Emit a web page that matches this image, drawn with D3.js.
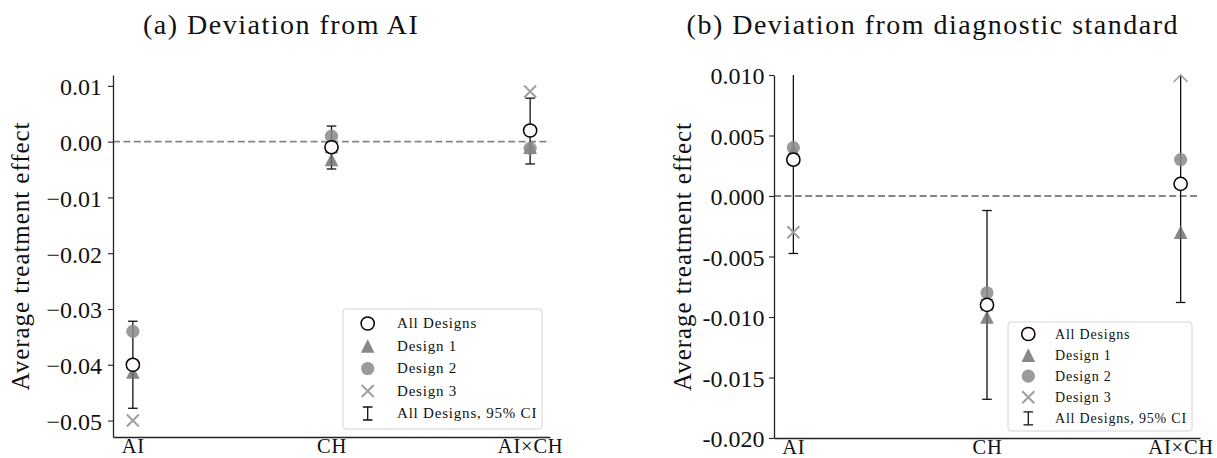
<!DOCTYPE html>
<html><head><meta charset="utf-8">
<script src="https://cdn.jsdelivr.net/npm/d3@7"></script>
<style>
html,body{margin:0;padding:0;background:#fff;}
svg{display:block;}
text{font-family:"Liberation Serif","Times New Roman",serif;fill:#111;}
</style></head>
<body>
<svg id="chart" width="1217" height="458"></svg>
<script>
// ---- data ----
const categories = ["AI", "CH", "AI×CH"];
const seriesNames = ["All Designs", "Design 1", "Design 2", "Design 3", "All Designs, 95% CI"];

// panel (a) Deviation from AI
const titleA = "(a) Deviation from AI";
const allA = [-0.040, -0.001, 0.002];
const ciLowA = [-0.0478, -0.0049, -0.0040];
const ciHighA = [-0.0322, 0.0028, 0.0078];
const design1A = [-0.0413, -0.0032, -0.0010];
const design2A = [-0.034, 0.001, -0.0012];
const design3A = [-0.050, -0.001, 0.009];
const yTicksA = [0.01, 0.00, -0.01, -0.02, -0.03, -0.04, -0.05];
const yTickLabelsA = ["0.01", "0.00", "−0.01", "−0.02", "−0.03", "−0.04", "−0.05"];
const yDomainA = [-0.05295, 0.01195];

// panel (b) Deviation from diagnostic standard
const titleB = "(b) Deviation from diagnostic standard";
const allB = [0.003, -0.009, 0.001];
const ciLowB = [-0.00475, -0.0168, -0.0088];
const ciHighB = [0.0108, -0.0012, 0.0108];
const design1B = [0.0038, -0.0100, -0.003];
const design2B = [0.004, -0.008, 0.003];
const design3B = [-0.003, -0.009, 0.012];
const yTicksB = [0.010, 0.005, 0.000, -0.005, -0.010, -0.015, -0.020];
const yTickLabelsB = ["0.010", "0.005", "0.000", "-0.005", "-0.010", "-0.015", "-0.020"];
const yDomainB = [-0.020, 0.010];

const yLabel = "Average treatment effect";

// ---- styles ----
const C_TRI = "#6a6a6a", C_DOT = "#8a8a8a", C_X = "#a0a0a0";
const svg = d3.select("#chart");

function drawMarker(g, type, cx, cy) {
  if (type === "all") {
    g.append("circle").attr("cx", cx).attr("cy", cy).attr("r", 6.6)
      .attr("fill", "#fffafa").attr("stroke", "#000").attr("stroke-width", 1.5);
  } else if (type === "d1") {
    const h = 6.8;
    g.append("path").attr("d", `M${cx},${cy - h}L${cx + h},${cy + h}L${cx - h},${cy + h}Z`)
      .attr("fill", C_TRI).attr("fill-opacity", 0.8);
  } else if (type === "d2") {
    g.append("circle").attr("cx", cx).attr("cy", cy).attr("r", 6.6)
      .attr("fill", C_DOT).attr("fill-opacity", 0.85);
  } else if (type === "d3") {
    const s = 6;
    g.append("path").attr("d", `M${cx - s},${cy - s}L${cx + s},${cy + s}M${cx - s},${cy + s}L${cx + s},${cy - s}`)
      .attr("stroke", C_X).attr("stroke-width", 2).attr("fill", "none");
  } else if (type === "ci") {
    const h = 6.5, w = 4.8;
    g.append("path").attr("d", `M${cx},${cy - h}V${cy + h}M${cx - w},${cy - h}H${cx + w}M${cx - w},${cy + h}H${cx + w}`)
      .attr("stroke", "#111").attr("stroke-width", 1.3).attr("fill", "none");
  }
}

function panel(cfg) {
  const g = svg.append("g");
  const x = d3.scaleLinear().domain([-0.1, 2.1]).range([cfg.x0, cfg.x1]);
  const y = d3.scaleLinear().domain(cfg.yDomain).range([cfg.yBottom, cfg.yTop]);
  const [dMin, dMax] = cfg.yDomain;

  // zero dashed line
  g.append("line").attr("x1", x(-0.1)).attr("x2", x(2.1)).attr("y1", y(0)).attr("y2", y(0))
    .attr("stroke", "#868686").attr("stroke-width", 1.8).attr("stroke-dasharray", "7,3.4");

  // axes
  const ya = g.append("g").attr("transform", `translate(${cfg.x0},0)`)
    .call(d3.axisLeft(y).tickValues(cfg.yTicks).tickFormat((d, i) => cfg.yTickLabels[i])
      .tickSize(5).tickSizeOuter(0).tickPadding(cfg.tickPad));
  ya.select(".domain").attr("stroke", "#222").attr("stroke-width", 1.3);
  ya.selectAll(".tick line").attr("stroke", "#222").attr("stroke-width", 1.1);
  ya.selectAll(".tick text").attr("font-size", 24).attr("dy", "0.37em")
    .style("font-family", '"Liberation Serif",serif').attr("fill", "#111");

  const xa = g.append("g").attr("transform", `translate(0,${cfg.yBottom})`)
    .call(d3.axisBottom(x).tickValues([0, 1, 2]).tickFormat(i => categories[i]).tickSize(0).tickSizeOuter(0));
  xa.select(".domain").attr("stroke", "#222").attr("stroke-width", 1.3);
  xa.selectAll(".tick text").attr("font-size", 20.5).attr("y", 15.5).attr("dy", 0)
    .style("font-family", '"Liberation Serif",serif').style("letter-spacing", "0.8px").attr("fill", "#111");

  // title
  g.append("text").attr("x", cfg.titleX).attr("y", 34).attr("text-anchor", cfg.titleAnchor)
    .attr("font-size", 28).style("letter-spacing", "1.5px").text(cfg.title);

  // y label
  g.append("text").attr("transform", `translate(${cfg.ylabelX},${(cfg.yTop + cfg.yBottom) / 2}) rotate(-90)`)
    .attr("text-anchor", "middle").attr("font-size", 25).style("letter-spacing", "0.95px").text(yLabel);

  const marks = g.append("g");
  categories.forEach((c, i) => {
    const cx = x(i);
    // error bar
    const lo = Math.max(cfg.lo[i], dMin), hi = Math.min(cfg.hi[i], dMax);
    marks.append("line").attr("x1", cx).attr("x2", cx).attr("y1", y(lo)).attr("y2", y(hi))
      .attr("stroke", "#111").attr("stroke-width", 1.3);
    if (cfg.lo[i] >= dMin)
      marks.append("line").attr("x1", cx - 4.8).attr("x2", cx + 4.8).attr("y1", y(cfg.lo[i])).attr("y2", y(cfg.lo[i]))
        .attr("stroke", "#111").attr("stroke-width", 1.3);
    if (cfg.hi[i] <= dMax)
      marks.append("line").attr("x1", cx - 4.8).attr("x2", cx + 4.8).attr("y1", y(cfg.hi[i])).attr("y2", y(cfg.hi[i]))
        .attr("stroke", "#111").attr("stroke-width", 1.3);
  });
  categories.forEach((c, i) => {
    const cx = x(i);
    [["d1", cfg.d1[i]], ["d2", cfg.d2[i]], ["d3", cfg.d3[i]]].forEach(([t, v]) => {
      if (v > dMax) {
        // out-of-range indicator
        const yy = y(dMax);
        marks.append("path").attr("d", `M${cx - 7},${yy + 7}L${cx},${yy}L${cx + 7},${yy + 7}`)
          .attr("fill", "none").attr("stroke", C_X).attr("stroke-width", 1.6);
      } else {
        drawMarker(marks, t, cx, y(v));
      }
    });
    drawMarker(marks, "all", cx, y(cfg.all[i]));
  });

  // legend
  const L = cfg.legend;
  const lg = g.append("g");
  lg.append("rect").attr("x", L.x).attr("y", L.y).attr("width", L.w).attr("height", L.h).attr("rx", 3)
    .attr("fill", "#fff").attr("fill-opacity", 0.85).attr("stroke", "#d4d4d4").attr("stroke-width", 1);
  const types = ["all", "d1", "d2", "d3", "ci"];
  seriesNames.forEach((name, k) => {
    const yy = L.y + L.first + k * L.step;
    drawMarker(lg, types[k], L.mx, yy);
    lg.append("text").attr("x", L.tx).attr("y", yy).attr("dy", "0.33em")
      .attr("font-size", L.fs).style("letter-spacing", "0.8px").text(name);
  });
}

panel({
  title: titleA, titleX: 143, titleAnchor: "start",
  x0: 113, x1: 550, yTop: 75, yBottom: 437, yDomain: yDomainA,
  yTicks: yTicksA, yTickLabels: yTickLabelsA, tickPad: 6, ylabelX: 29,
  all: allA, lo: ciLowA, hi: ciHighA, d1: design1A, d2: design2A, d3: design3A,
  legend: { x: 343, y: 309, w: 199, h: 120, first: 14.5, step: 22.5, mx: 367.7, tx: 397, fs: 15 }
});
panel({
  title: titleB, titleX: 1179, titleAnchor: "end",
  x0: 774, x1: 1200, yTop: 75, yBottom: 438, yDomain: yDomainB,
  yTicks: yTicksB, yTickLabels: yTickLabelsB, tickPad: 4.5, ylabelX: 691,
  all: allB, lo: ciLowB, hi: ciHighB, d1: design1B, d2: design2B, d3: design3B,
  legend: { x: 1008, y: 322, w: 184, h: 109, first: 12, step: 21.1, mx: 1028.3, tx: 1055, fs: 14 }
});
</script>
</body></html>
